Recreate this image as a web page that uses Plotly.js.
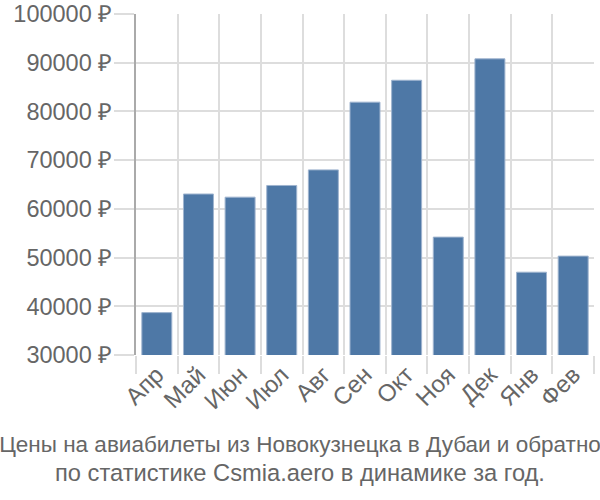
<!DOCTYPE html>
<html>
<head>
<meta charset="utf-8">
<script src="https://cdn.plot.ly/plotly-3.0.1.min.js"></script>
<style>html,body{margin:0;padding:0;background:#fff;}#chart{width:600px;height:500px;}</style>
</head>
<body>
<div id="chart"></div>
<script>
const months = ['Апр','Май','Июн','Июл','Авг','Сен','Окт','Ноя','Дек','Янв','Фев'];
const prices = [38700, 63050, 62400, 64800, 68000, 81900, 86400, 54200, 90800, 47000, 50300];
const yTicks = [30000, 40000, 50000, 60000, 70000, 80000, 90000, 100000];
const titleLines = ['Цены на авиабилеты из Новокузнецка в Дубаи и обратно', 'по статистике Csmia.aero в динамике за год.'];

const trace = {
  type: 'bar',
  x: months,
  y: prices,
  marker: {color: '#4e78a6', line: {color: '#9fb4cf', width: 1}},
  width: 0.72,
  hoverinfo: 'x+y'
};

const layout = {
  width: 600, height: 500,
  margin: {l: 136, r: 6, t: 14, b: 145},
  paper_bgcolor: '#fff', plot_bgcolor: '#fff',
  font: {family: '"Liberation Sans", Arial, sans-serif', color: '#666'},
  showlegend: false,
  title: {
    text: titleLines[0] + '<br><span style="font-size:23.7px">' + titleLines[1] + '</span>',
    font: {size: 22.5, color: '#666'},
    x: 0.5, xanchor: 'center', xref: 'container',
    y: 0.097, yanchor: 'middle', yref: 'container'
  },
  xaxis: {
    type: 'category',
    range: [-0.5, 10.5],
    tickson: 'boundaries',
    ticks: 'outside', ticklen: 18, tickcolor: '#ddd', tickwidth: 2,
    showgrid: true, gridcolor: '#ddd', gridwidth: 2,
    tickangle: -45,
    tickfont: {size: 24, color: '#666'},
    showline: false, zeroline: false, fixedrange: true
  },
  yaxis: {
    range: [30000, 100000],
    tickvals: yTicks,
    ticktext: yTicks.map(v => v + ' ₽'),
    ticks: 'outside', ticklen: 20, tickcolor: '#ddd', tickwidth: 2,
    showgrid: true, gridcolor: '#ddd', gridwidth: 2,
    tickfont: {size: 23.5, color: '#666'},
    ticklabelstandoff: -3,
    showline: true, linecolor: '#aaa', linewidth: 2,
    zeroline: false, fixedrange: true
  },
  bargap: 0.28
};

Plotly.newPlot('chart', [trace], layout, {displayModeBar: false, staticPlot: true});
</script>
</body>
</html>
